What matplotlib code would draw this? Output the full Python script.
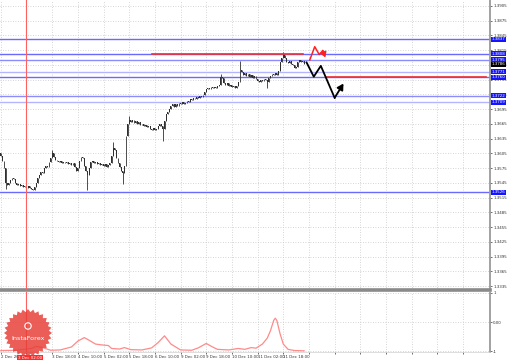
import matplotlib
matplotlib.use("Agg")
import matplotlib.pyplot as plt
from matplotlib.patches import Polygon, Circle
import numpy as np

# H1 closes from 2 Dec 2013 10:00 (bar 0) to 12 Dec ~07:00
closes = [
    1.3600, 1.3590, 1.3575, 1.3545, 1.3540, 1.3545, 1.3550, 1.3555, 1.3552, 1.3545,
    1.3540, 1.3542, 1.3538, 1.3540, 1.3536, 1.3538, 1.3534, 1.3538, 1.3535, 1.3532,
    1.3530, 1.3536, 1.3545, 1.3555, 1.3560, 1.3568, 1.3565, 1.3575, 1.3580, 1.3578,
    1.3588, 1.3595, 1.3605, 1.3598, 1.3592, 1.3590, 1.3588, 1.3590, 1.3586, 1.3588,
    1.3585, 1.3588, 1.3584, 1.3586, 1.3582, 1.3585, 1.3578, 1.3570, 1.3575, 1.3590,
    1.3598, 1.3595, 1.3580, 1.3570, 1.3560, 1.3575, 1.3588, 1.3590, 1.3585, 1.3588,
    1.3584, 1.3586, 1.3582, 1.3584, 1.3580, 1.3583, 1.3578, 1.3582, 1.3585, 1.3600,
    1.3615, 1.3612, 1.3595, 1.3585, 1.3578, 1.3570, 1.3565, 1.3580, 1.3640, 1.3665,
    1.3672, 1.3668, 1.3672, 1.3666, 1.3670, 1.3665, 1.3668, 1.3662, 1.3665, 1.3660,
    1.3663, 1.3658, 1.3660, 1.3655, 1.3653, 1.3656, 1.3652, 1.3655, 1.3660, 1.3665,
    1.3660, 1.3655, 1.3670, 1.3685, 1.3690, 1.3695, 1.3702, 1.3705, 1.3700, 1.3706,
    1.3702, 1.3708, 1.3706, 1.3710, 1.3705, 1.3708, 1.3712, 1.3710, 1.3716, 1.3714,
    1.3718, 1.3716, 1.3720, 1.3718, 1.3722, 1.3720, 1.3724, 1.3730, 1.3735, 1.3738,
    1.3736, 1.3740, 1.3737, 1.3741, 1.3738, 1.3742, 1.3745, 1.3760, 1.3758, 1.3748,
    1.3745, 1.3748, 1.3742, 1.3745, 1.3740, 1.3743, 1.3738, 1.3742, 1.3750, 1.3775,
    1.3770, 1.3765, 1.3768, 1.3763, 1.3766, 1.3760, 1.3764, 1.3758, 1.3762, 1.3756,
    1.3752, 1.3750, 1.3755, 1.3752, 1.3756, 1.3754, 1.3750, 1.3758, 1.3762, 1.3766,
    1.3764, 1.3768, 1.3765, 1.3772, 1.3790, 1.3800, 1.3806, 1.3798, 1.3790, 1.3788,
    1.3792, 1.3786, 1.3784, 1.3778, 1.3780, 1.3790, 1.3794, 1.3790, 1.3792, 1.3786,
]
first_open = 1.3605
# long wicks seen on the chart
spike_high = {0: 1.3605, 32: 1.3612, 70: 1.3628, 80: 1.3680, 137: 1.3766,
              149: 1.3792, 176: 1.3812}
spike_low = {3: 1.3532, 54: 1.3530, 76: 1.3542, 101: 1.3630, 166: 1.3738}

price_ticks = [1.3335, 1.3365, 1.3395, 1.3425, 1.3455, 1.3485, 1.3515, 1.3545,
               1.3575, 1.3605, 1.3635, 1.3665, 1.3695, 1.3725, 1.3755, 1.3785,
               1.3815, 1.3845, 1.3875, 1.3905]

level_prices = [1.3837, 1.3808, 1.3795, 1.3771, 1.3760, 1.3722, 1.3709, 1.3526]
level_colors = ['#6a6aff', '#6a6aff', '#8c8cff', '#b4b4ff', '#6a6aff',
                '#8c8cff', '#b4b4ff', '#6a6aff']
current_price = 1.3786

# red resistance / support segments: (price, from bar, to bar)
red_segments = [(1.3808, 94, 188), (1.3760, 203, 302)]

# forecast zigzags
fc_black_x = [190.5, 195.0, 199.4, 208.0, 213.5]
fc_black_y = [1.3790, 1.3761, 1.3783, 1.3718, 1.3747]
fc_red_x = [192.5, 195.6, 198.4, 200.6, 202.2]
fc_red_y = [1.3795, 1.3822, 1.3806, 1.3814, 1.3800]

# bar 16 label is shown by the red marker box instead
time_tick_bars = [0, 16, 32, 48, 64, 80, 96, 112, 128, 144, 160, 176]
time_tick_labels = ['2 Dec 2013', '', '3 Dec 18:00', '4 Dec 10:00',
                    '5 Dec 02:00', '5 Dec 18:00', '6 Dec 10:00', '9 Dec 02:00',
                    '9 Dec 18:00', '10 Dec 10:00', '11 Dec 02:00', '11 Dec 18:00']
vline_bar = 16
vline_label = '3 Dec 02:00'

# lower indicator (read at sample bars)
ind_bars = [0, 10, 19, 22, 26, 31, 37, 44, 48, 52, 55, 59, 63, 67, 69, 74, 77,
            81, 88, 94, 98, 102, 106, 112, 119, 123, 128, 132, 135, 142, 148,
            152, 156, 159, 163, 166, 168, 170, 171, 172, 174, 176, 179, 183, 189]
ind_vals = [-0.97, -0.96, -0.90, -0.83, -0.87, -0.96, -0.95, -0.85, -0.65,
            -0.53, -0.62, -0.75, -0.78, -0.80, -0.90, -0.92, -0.87, -0.94,
            -0.95, -0.88, -0.70, -0.47, -0.75, -0.95, -0.96, -0.88, -0.73,
            -0.85, -0.93, -0.95, -0.90, -0.93, -0.87, -0.89, -0.75, -0.55,
            -0.30, 0.05, 0.13, 0.05, -0.40, -0.75, -0.93, -0.97, -0.98]

W, H = 510, 360
X_MAX = 304.8
FS = 2.9
grid_col = '#c8c8c8'
axis_col = '#9a9a9a'

fig = plt.figure(figsize=(W / 100, H / 100), dpi=100)
ax = fig.add_axes([0, 70 / H, 490 / W, 290 / H])
axi = fig.add_axes([0, 8 / H, 490 / W, 60 / H])

# candles
bars = np.arange(len(closes))
opens = [first_open] + closes[:-1]
highs = [max(o, c, spike_high.get(i, 0)) for i, (o, c) in enumerate(zip(opens, closes))]
lows = [min(o, c, spike_low.get(i, 9)) for i, (o, c) in enumerate(zip(opens, closes))]
ax.vlines(bars, lows, highs, color='#303030', lw=0.6, zorder=3)
body = np.array(closes) - np.array(opens)
ax.bar(bars, body, bottom=opens, width=0.55, color='#303030', lw=0, zorder=3)

# horizontal levels
for p, c in zip(level_prices, level_colors):
    ax.axhline(p, color=c, lw=1.0, zorder=2)
for p, b0, b1 in red_segments:
    ax.plot([b0, b1], [p, p], color='#f03030', lw=1.2, zorder=4)

# forecast arrows
ax.plot(fc_black_x[:-1], fc_black_y[:-1], color='black', lw=1.3, zorder=6)
ax.annotate('', xy=(fc_black_x[-1], fc_black_y[-1]),
            xytext=(fc_black_x[-2], fc_black_y[-2]),
            arrowprops=dict(arrowstyle='-|>,head_length=0.35,head_width=0.2',
                            color='black', lw=1.3, shrinkA=0, shrinkB=0), zorder=6)
ax.plot(fc_red_x[:-1], fc_red_y[:-1], color='#ff2020', lw=1.1, zorder=6)
ax.annotate('', xy=(fc_red_x[-1], fc_red_y[-1]),
            xytext=(fc_red_x[-2], fc_red_y[-2]),
            arrowprops=dict(arrowstyle='-|>,head_length=0.3,head_width=0.18',
                            color='#ff2020', lw=1.1, shrinkA=0, shrinkB=0), zorder=6)

# vertical red marker
ax.axvline(vline_bar, color='#ff6060', lw=0.8, zorder=4)
axi.axvline(vline_bar, color='#ff6060', lw=0.8, zorder=4)

# axes styling
grid_bars = list(range(0, int(X_MAX), 16))
for a in (ax, axi):
    a.set_xlim(-0.5, X_MAX)
    a.set_xticks(grid_bars)
    a.grid(True, color=grid_col, ls=(0, (1, 2)), lw=0.6)
    a.set_axisbelow(True)
    a.yaxis.tick_right()
    a.spines['top'].set_visible(False)
    a.spines['left'].set_visible(False)
    a.spines['right'].set_color(axis_col)
    a.spines['right'].set_linewidth(1.3)
    a.tick_params(axis='y', length=1.5, width=0.5, labelsize=FS, pad=0.8,
                  colors='#333333')

ax.set_ylim(1.3327, 1.3917)
ax.set_yticks(price_ticks)
ax.set_yticklabels([f'{p:.4f}' for p in price_ticks])
ax.tick_params(axis='x', length=0, labelbottom=False)
ax.spines['bottom'].set_color('#8a8a8a')
ax.spines['bottom'].set_linewidth(2.6)

# price labels on the axis
for p in level_prices:
    ax.text(1.004, p, f'{p:.4f}', transform=ax.get_yaxis_transform(),
            ha='left', va='center', fontsize=FS, color='white', clip_on=False,
            bbox=dict(boxstyle='square,pad=0.15', fc='#1414ff', ec='none'),
            zorder=7)
ax.text(1.004, current_price, f'{current_price:.4f}',
        transform=ax.get_yaxis_transform(), ha='left', va='center',
        fontsize=FS, color='white', clip_on=False,
        bbox=dict(boxstyle='square,pad=0.15', fc='black', ec='none'), zorder=7)

# indicator panel
axi.plot(ind_bars, ind_vals, color='#ff8a8a', lw=0.9, zorder=3)
axi.set_ylim(-1.02, 1.02)
axi.set_yticks([-1, 0, 1])
axi.set_yticklabels(['-1', '0.00', '1'])
axi.spines['bottom'].set_color('#d0d0d0')
axi.spines['bottom'].set_linewidth(0.5)
axi.set_xticklabels(time_tick_labels + [''] * (len(grid_bars) - len(time_tick_labels)))
axi.tick_params(axis='x', length=1.5, width=0.5, labelsize=FS, pad=0.5,
                colors='#333333')
for lbl in axi.get_xticklabels():
    lbl.set_ha('left')
axi.text(vline_bar + 2, -0.06, vline_label, transform=axi.get_xaxis_transform(),
         ha='center', va='top', fontsize=FS, color='white', clip_on=False,
         bbox=dict(boxstyle='square,pad=0.2', fc='#ff2a2a', ec='none'), zorder=7)

# watermark logo
ov = fig.add_axes([0, 0, 1, 1], zorder=10)
ov.set_xlim(0, W)
ov.set_ylim(H, 0)
ov.axis('off')
n_pts = 56
ang = np.linspace(0, 2 * np.pi, n_pts, endpoint=False)
rad = np.where(np.arange(n_pts) % 2 == 0, 24, 21)
star = np.column_stack([28 + rad * np.cos(ang), 333 + rad * np.sin(ang)])
ov.add_patch(Polygon(star, closed=True, fc='#e8403a', ec='none', alpha=0.85))
ov.add_patch(Circle((28, 326), 3.2, fill=False, ec='white', lw=0.8))
ov.text(28, 338, 'InstaForex', color='white', fontsize=4.6, ha='center',
        va='center')

fig.savefig('out.png', dpi=100)
